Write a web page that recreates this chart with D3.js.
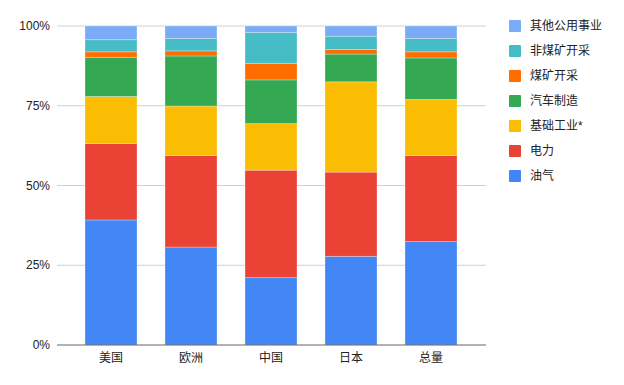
<!DOCTYPE html>
<html>
<head>
<meta charset="utf-8">
<script src="https://cdn.jsdelivr.net/npm/d3@7"></script>
<style>
  body { margin: 0; background: #fff; }
  text { font-family: "Liberation Sans", Arial, "Noto Sans CJK SC", sans-serif; fill: #222; }
</style>
</head>
<body>
<div id="chart"></div>
<script>
// data -------------------------------------------------
var categories = ["美国", "欧洲", "中国", "日本", "总量"];
var seriesNames = ["油气", "电力", "基础工业*", "汽车制造", "煤矿开采", "非煤矿开采", "其他公用事业"];
var colors = ["#4285F4", "#EA4335", "#FBBC04", "#34A853", "#FF6D01", "#46BDC6", "#7BAAF7"];
// share (%) per series, one value per category
var oilGas   = [39.2, 30.7, 21.1, 27.8, 32.4];
var power    = [24.0, 28.7, 33.7, 26.4, 27.0];
var basic    = [14.7, 15.5, 14.6, 28.3, 17.6];
var auto     = [12.3, 15.7, 13.7, 8.7, 13.0];
var coal     = [1.7, 1.6, 5.2, 1.4, 1.9];
var nonCoal  = [3.8, 3.9, 9.7, 4.2, 4.2];
var utility  = [4.3, 3.9, 2.0, 3.2, 3.9];
var yTicks = [0, 25, 50, 75, 100];

var seriesValues = [oilGas, power, basic, auto, coal, nonCoal, utility];

// svg ----------------------------------------------------
var svgWidth = 624, svgHeight = 385;
var svg = d3.select("#chart").append("svg")
  .attr("width", svgWidth)
  .attr("height", svgHeight);

var rows = categories.map(function(c, i) {
  var r = { cat: c };
  seriesNames.forEach(function(s, j) { r[s] = seriesValues[j][i]; });
  return r;
});
var stacked = d3.stack().keys(seriesNames).offset(d3.stackOffsetExpand)(rows);

var x = d3.scaleBand().domain(categories).range([71, 471]).paddingInner(0.35).paddingOuter(0.175);
var y = d3.scaleLinear().domain([0, 1]).range([345, 26]);

// gridlines
svg.append("g").selectAll("line").data(yTicks.slice(1)).enter().append("line")
  .attr("x1", 57).attr("x2", 486)
  .attr("y1", d => y(d / 100)).attr("y2", d => y(d / 100))
  .attr("stroke", "#d0d0d0").attr("stroke-width", 1);

// y labels
svg.append("g").selectAll("text").data(yTicks).enter().append("text")
  .attr("x", 50).attr("y", d => y(d / 100)).attr("dy", "0.35em")
  .attr("text-anchor", "end").style("font-size", "12px")
  .text(d => d + "%");

// bars
svg.append("g").selectAll("g").data(stacked).enter().append("g")
  .attr("fill", (d, i) => colors[i])
  .selectAll("rect").data(d => d).enter().append("rect")
  .attr("x", d => x(d.data.cat))
  .attr("width", x.bandwidth())
  .attr("y", d => y(d[1]))
  .attr("height", d => y(d[0]) - y(d[1]))
  .attr("stroke", "rgba(255,255,255,0.35)")
  .attr("stroke-width", 0.8);

// baseline
svg.append("line")
  .attr("x1", 57).attr("x2", 486).attr("y1", y(0)).attr("y2", y(0))
  .attr("stroke", "#666").attr("stroke-width", 1.2);

// x labels
svg.append("g").selectAll("text").data(categories).enter().append("text")
  .attr("x", d => x(d) + x.bandwidth() / 2).attr("y", 358).attr("dy", "0.35em")
  .attr("text-anchor", "middle").style("font-size", "12px")
  .text(d => d);

// legend (reversed order, top = last series)
var legend = svg.append("g").selectAll("g").data(seriesNames.slice().reverse()).enter().append("g")
  .attr("transform", (d, i) => `translate(509, ${26 + i * 25})`);
legend.append("rect")
  .attr("x", 0).attr("y", -6).attr("width", 12).attr("height", 12).attr("rx", 1)
  .attr("fill", d => colors[seriesNames.indexOf(d)]);
legend.append("text")
  .attr("x", 21).attr("y", 0).attr("dy", "0.35em").style("font-size", "12px")
  .text(d => d);
</script>
</body>
</html>
